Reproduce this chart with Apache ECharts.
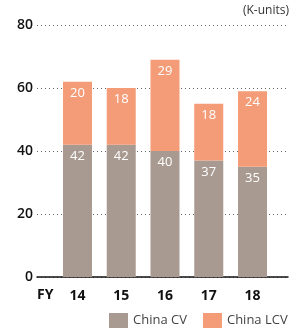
<!DOCTYPE html>
<html>
<head>
<meta charset="utf-8">
<script src="https://cdn.jsdelivr.net/npm/echarts@6/dist/echarts.min.js"></script>
<style>
  html, body { margin: 0; padding: 0; background: #fff; }
  #chart { width: 302px; height: 328px; }
</style>
</head>
<body>
<div id="chart"></div>
<script>
const years = ['14', '15', '16', '17', '18']
const chinaCV = [42, 42, 40, 37, 35]
const chinaLCV = [20, 18, 29, 18, 24]
const seriesNames = ['China CV', 'China LCV']
const colors = ['#A99A91', '#F39C77']

const font = '"Open Sans", "Noto Sans", sans-serif'
const chart = echarts.init(document.getElementById('chart'))

const barLabel = {
  show: true,
  position: 'insideTop',
  distance: 5,
  color: '#fff',
  fontSize: 13,
  fontFamily: font,
}

chart.setOption({
  animation: false,
  color: colors,
  textStyle: { fontFamily: font },
  grid: [
    // background grid: dotted lines + baseline
    { left: 37, right: 14, top: 25, bottom: 51 },
    // bars
    { left: 55.6, right: 27.6, top: 25, bottom: 51 },
  ],
  xAxis: [
    {
      gridIndex: 0,
      type: 'value',
      min: 0,
      max: 1,
      axisLine: { show: true, onZero: false, lineStyle: { color: '#111', width: 1.5 } },
      axisTick: { show: false },
      axisLabel: { show: false },
      splitLine: { show: false },
    },
    {
      gridIndex: 1,
      type: 'category',
      data: years,
      axisLine: { show: false },
      axisTick: { show: false },
      axisLabel: { color: '#111', fontSize: 14, fontWeight: 'bold', margin: 12 },
    },
  ],
  yAxis: [
    {
      gridIndex: 0,
      type: 'value',
      min: 0,
      max: 80,
      interval: 20,
      axisLine: { show: false },
      axisTick: { show: false },
      axisLabel: { color: '#111', fontSize: 14, fontWeight: 600, margin: 4 },
      splitLine: { lineStyle: { color: '#666', type: [1, 3], width: 1 } },
    },
    {
      gridIndex: 1,
      type: 'value',
      min: 0,
      max: 80,
      show: false,
    },
  ],
  legend: {
    left: 104,
    top: 308,
    icon: 'rect',
    itemWidth: 19,
    itemHeight: 15,
    itemGap: 16,
    data: seriesNames,
    textStyle: { color: '#444', fontSize: 13 },
  },
  graphic: [
    {
      type: 'text',
      left: 37,
      top: 288,
      style: { text: 'FY', fill: '#111', font: 'bold 14px ' + font },
    },
    {
      type: 'text',
      right: 13,
      top: 5,
      style: { text: '(K-units)', fill: '#333', font: '12px ' + font },
    },
  ],
  series: [
    {
      name: seriesNames[0],
      type: 'bar',
      stack: 'total',
      xAxisIndex: 1,
      yAxisIndex: 1,
      barWidth: 29,
      data: chinaCV,
      label: barLabel,
    },
    {
      name: seriesNames[1],
      type: 'bar',
      stack: 'total',
      xAxisIndex: 1,
      yAxisIndex: 1,
      barWidth: 29,
      data: chinaLCV,
      label: barLabel,
    },
  ],
})
</script>
</body>
</html>
